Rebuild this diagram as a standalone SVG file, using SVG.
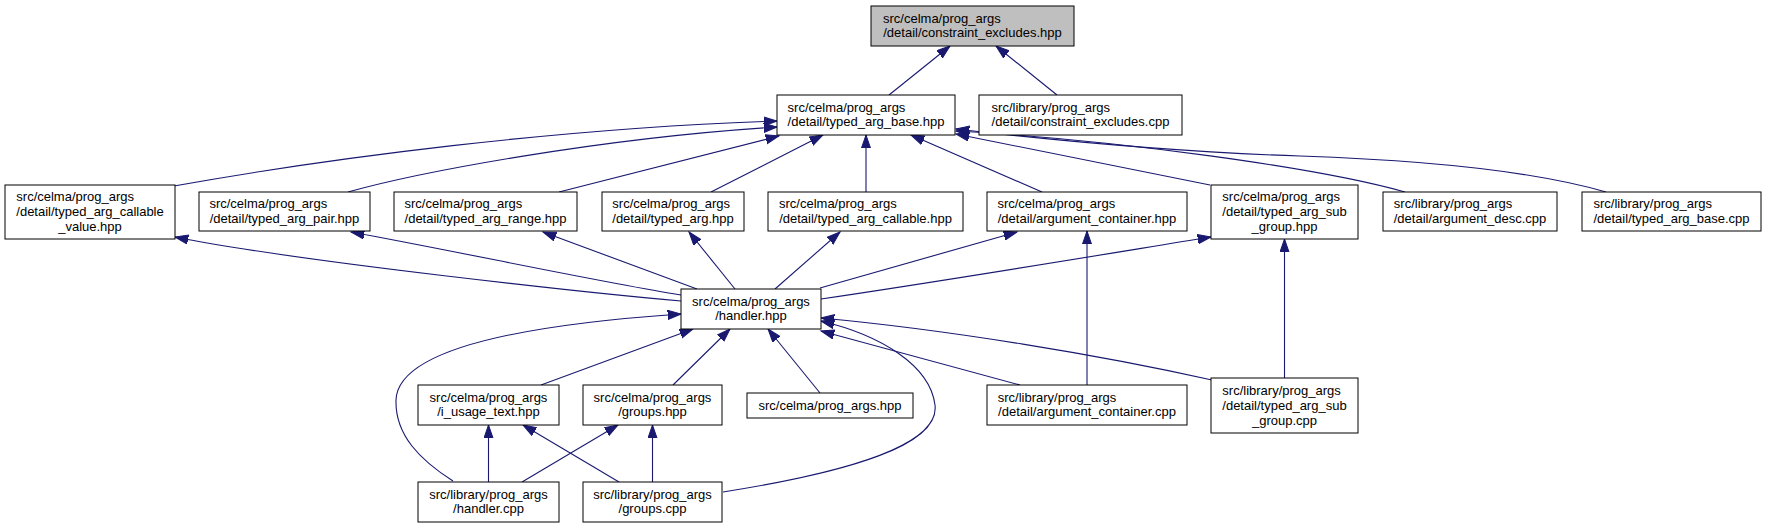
<svg xmlns="http://www.w3.org/2000/svg" width="1766" height="528" viewBox="0 0 1766 528">
<defs>
<marker id="ah" markerWidth="15" markerHeight="11" refX="13.3" refY="5" orient="auto" markerUnits="userSpaceOnUse">
<path d="M0,0.4 L13.3,5 L0,9.6 z" fill="#191970" stroke="#191970" stroke-width="1"/>
</marker>
<style>
.n rect{fill:#fff;stroke:#000;stroke-width:1}
.n.root rect{fill:#bfbfbf}
.n text{font-family:"Liberation Sans",Arial,Helvetica,sans-serif;font-size:13px;fill:#000}
.c{text-anchor:middle}
#edges path{fill:none;stroke:#191970;stroke-width:1.1;marker-end:url(#ah)}
</style>
</defs>
<rect width="1766" height="528" fill="#fff"/>
<g id="edges">
<path d="M889,95 L950,46"/>
<path d="M1057,95 L996,46"/>
<path d="M174,186 C330,158 560,128 777,121"/>
<path d="M348,192 C420,172 600,138 777,127"/>
<path d="M559,192 L779,136"/>
<path d="M711,192 L823,135"/>
<path d="M866,192 L866,135"/>
<path d="M1042,192 L911,135"/>
<path d="M1210,185 L956,134"/>
<path d="M1405,192 C1320,168 1120,140 956,131"/>
<path d="M1606,192 C1530,170 1420,160 1300,156 C1180,152 1050,140 956,129"/>
<path d="M697,289 L543,232"/>
<path d="M735,289 L689,232"/>
<path d="M775,289 L840,232"/>
<path d="M820,288 L1017,232"/>
<path d="M821,299 C950,280 1100,255 1211,237"/>
<path d="M681,301 C600,294 300,262 175,237"/>
<path d="M681,295 C600,282 450,250 351,232"/>
<path d="M453,481 C420,460 395,435 396,400 C398,350 520,325 681,314"/>
<path d="M541,385 L693,329"/>
<path d="M673,385 L730,329"/>
<path d="M820,393 L768,329"/>
<path d="M1020,385 L821,331"/>
<path d="M1212,380 C1100,355 950,330 821,318"/>
<path d="M723,492 C850,472 940,445 935,405 C930,365 880,335 821,321"/>
<path d="M488.5,482 L488.5,425"/>
<path d="M522,482 L618,425"/>
<path d="M619,482 L523,425"/>
<path d="M652.5,482 L652.5,425"/>
<path d="M1087,385 L1087,231"/>
<path d="M1284.5,378 L1284.5,239"/>
</g>
<g id="n_root" class="n root"><rect x="871" y="6" width="203" height="40"/><text x="883" y="22.5">src/celma/prog_args</text><text class="c" x="972.5" y="37">/detail/constraint_excludes.hpp</text></g>
<g id="n_base" class="n"><rect x="777" y="95" width="178" height="40"/><text x="787.6" y="111.5">src/celma/prog_args</text><text class="c" x="866" y="126">/detail/typed_arg_base.hpp</text></g>
<g id="n_ce_cpp" class="n"><rect x="979" y="95" width="203" height="40"/><text x="991.6" y="111.5">src/library/prog_args</text><text class="c" x="1080.5" y="126">/detail/constraint_excludes.cpp</text></g>
<g id="n_cv" class="n"><rect x="5" y="185" width="170" height="54"/><text x="16.3" y="201">src/celma/prog_args</text><text x="16.3" y="216">/detail/typed_arg_callable</text><text class="c" x="90" y="231">_value.hpp</text></g>
<g id="n_pair" class="n"><rect x="199" y="192" width="171" height="39"/><text x="209.4" y="208">src/celma/prog_args</text><text class="c" x="284.5" y="222.5">/detail/typed_arg_pair.hpp</text></g>
<g id="n_range" class="n"><rect x="394" y="192" width="183" height="39"/><text x="404.5" y="208">src/celma/prog_args</text><text class="c" x="485.5" y="222.5">/detail/typed_arg_range.hpp</text></g>
<g id="n_targ" class="n"><rect x="602" y="192" width="142" height="39"/><text x="612.3" y="208">src/celma/prog_args</text><text class="c" x="673" y="222.5">/detail/typed_arg.hpp</text></g>
<g id="n_tcall" class="n"><rect x="768" y="192" width="195" height="39"/><text x="779" y="208">src/celma/prog_args</text><text class="c" x="865.5" y="222.5">/detail/typed_arg_callable.hpp</text></g>
<g id="n_acont_h" class="n"><rect x="987" y="192" width="200" height="39"/><text x="997.4" y="208">src/celma/prog_args</text><text class="c" x="1087" y="222.5">/detail/argument_container.hpp</text></g>
<g id="n_sub_h" class="n"><rect x="1211" y="185" width="147" height="54"/><text x="1222.3" y="201">src/celma/prog_args</text><text x="1222.3" y="216">/detail/typed_arg_sub</text><text class="c" x="1284.5" y="231">_group.hpp</text></g>
<g id="n_desc" class="n"><rect x="1383" y="192" width="174" height="39"/><text x="1393.8" y="208">src/library/prog_args</text><text class="c" x="1470" y="222.5">/detail/argument_desc.cpp</text></g>
<g id="n_base_cpp" class="n"><rect x="1582" y="192" width="179" height="39"/><text x="1593.5" y="208">src/library/prog_args</text><text class="c" x="1671.5" y="222.5">/detail/typed_arg_base.cpp</text></g>
<g id="n_handler_h" class="n"><rect x="681" y="289" width="140" height="40"/><text x="692.1" y="305.5">src/celma/prog_args</text><text class="c" x="751" y="320">/handler.hpp</text></g>
<g id="n_usage" class="n"><rect x="418" y="385" width="141" height="40"/><text x="429.6" y="401.5">src/celma/prog_args</text><text class="c" x="488.5" y="416">/i_usage_text.hpp</text></g>
<g id="n_groups_h" class="n"><rect x="583" y="385" width="139" height="40"/><text x="593.6" y="401.5">src/celma/prog_args</text><text class="c" x="652.5" y="416">/groups.hpp</text></g>
<g id="n_pa_h" class="n"><rect x="747" y="393" width="166" height="25"/><text class="c" x="830" y="410">src/celma/prog_args.hpp</text></g>
<g id="n_acont_cpp" class="n"><rect x="987" y="385" width="200" height="40"/><text x="997.75" y="401.5">src/library/prog_args</text><text class="c" x="1087" y="416">/detail/argument_container.cpp</text></g>
<g id="n_sub_cpp" class="n"><rect x="1211" y="378" width="147" height="55"/><text x="1222.3" y="394.5">src/library/prog_args</text><text x="1222.3" y="409.5">/detail/typed_arg_sub</text><text class="c" x="1284.5" y="424.5">_group.cpp</text></g>
<g id="n_handler_cpp" class="n"><rect x="418" y="482" width="141" height="40"/><text x="429.25" y="498.5">src/library/prog_args</text><text class="c" x="488.5" y="513">/handler.cpp</text></g>
<g id="n_groups_cpp" class="n"><rect x="583" y="482" width="139" height="40"/><text x="593.25" y="498.5">src/library/prog_args</text><text class="c" x="652.5" y="513">/groups.cpp</text></g>
</svg>
